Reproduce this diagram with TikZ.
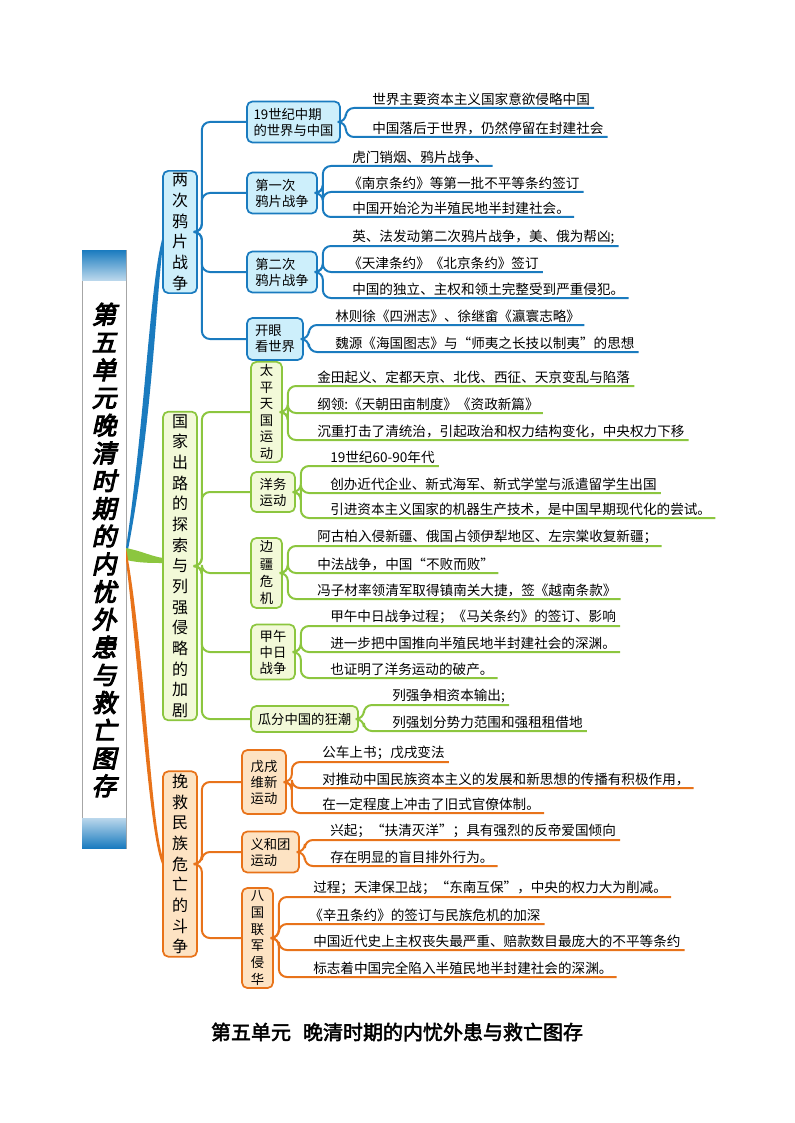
\documentclass[tikz,border=0pt]{standalone}
\usepackage{fontspec}
\setmainfont{Noto Sans CJK SC}
\newfontfamily\titlefont[FakeSlant=0.22,FakeBold=4]{Noto Sans CJK SC}
\newfontfamily\capfont[FakeBold=2.5]{Noto Sans CJK SC}
\definecolor{bl}{HTML}{1A7BBF}\definecolor{bf}{HTML}{CDEFFB}
\definecolor{gl}{HTML}{8CC63F}\definecolor{gf}{HTML}{F2F9D8}
\definecolor{ol}{HTML}{E8731A}\definecolor{of}{HTML}{FDE3C3}
\tikzset{
 box/.style={rounded corners=4pt,line width=1.3pt,inner sep=2pt,align=center,font=\fontsize{10}{12}\selectfont},
 bbox/.style={box,draw=bl,fill=bf},gbox/.style={box,draw=gl,fill=gf},obox/.style={box,draw=ol,fill=of},
 mainv/.style={font=\fontsize{12}{15.5}\selectfont},
 leaf/.style={anchor=south west,inner xsep=3pt,inner ysep=1.5pt,font=\fontsize{10.2}{11}\selectfont},
 bline/.style={draw=bl,line width=1.5pt,rounded corners=6pt},
 gline/.style={draw=gl,line width=1.5pt,rounded corners=6pt},
 oline/.style={draw=ol,line width=1.5pt,rounded corners=6pt},
}
\begin{document}
\begin{tikzpicture}[x=0.75pt,y=-0.75pt]
\useasboundingbox (0,0) rectangle (794,1123);
% title box
\draw[draw=gray!70,fill=white,line width=0.6pt] (82,250) rectangle (126,848);
\shade[top color=bl,bottom color=bl!30] (82,250) rectangle (126,280);
\shade[top color=bl!30,bottom color=bl] (82,818) rectangle (126,848);
\node[font=\titlefont\fontsize{18.5}{20.8}\selectfont,align=center,inner sep=0] (title) at (104,550) {第\\五\\单\\元\\晚\\清\\时\\期\\的\\内\\忧\\外\\患\\与\\救\\亡\\图\\存};
% main nodes
\node[bbox,mainv,minimum width={34*0.75pt},minimum height={120*0.75pt}] (m1) at (180,232) {两\\次\\鸦\\片\\战\\争};
\node[gbox,mainv,minimum width={34*0.75pt},minimum height={282*0.75pt}] (m2) at (180,566) {国\\家\\出\\路\\的\\探\\索\\与\\列\\强\\侵\\略\\的\\加\\剧};
\node[obox,mainv,minimum width={34*0.75pt},minimum height={173*0.75pt}] (m3) at (180,864) {挽\\救\\民\\族\\危\\亡\\的\\斗\\争};
% tapered main connectors
\fill[bl] (126,548) .. controls (145,420) and (150,280) .. (163,236) -- (163,244) .. controls (156,300) and (152,430) .. (126,560) -- cycle;
\fill[gl] (126,548) .. controls (145,552) and (150,556) .. (163,558) -- (163,563) .. controls (150,563) and (140,563) .. (126,560) -- cycle;
\fill[ol] (126,548) .. controls (145,650) and (150,820) .. (163,858) -- (163,866) .. controls (150,840) and (142,700) .. (126,560) -- cycle;
% blue subs
\node[bbox,align=left,minimum width={93*0.75pt},minimum height={41*0.75pt}] (a1) at (293.5,122) {19世纪中期\\的世界与中国};
\node[bbox,align=left,minimum width={70*0.75pt},minimum height={41*0.75pt}] (a2) at (282,193) {第一次\\鸦片战争};
\node[bbox,align=left,minimum width={70*0.75pt},minimum height={41*0.75pt}] (a3) at (282,272) {第二次\\鸦片战争};
\node[bbox,align=left,minimum width={56*0.75pt},minimum height={42*0.75pt}] (a4) at (275,339) {开眼\\看世界};
\foreach \s in {a1,a2,a3,a4} \draw[bline] (m1.east) -- ++(4,0) |- (\s.west);
% green subs
\node[gbox,minimum width={31*0.75pt},minimum height={99*0.75pt},font=\fontsize{10}{12.4}\selectfont] (b1) at (266.5,412) {太\\平\\天\\国\\运\\动};
\node[gbox,minimum width={44*0.75pt},minimum height={40*0.75pt}] (b2) at (273,492) {洋务\\运动};
\node[gbox,minimum width={31*0.75pt},minimum height={70*0.75pt},font=\fontsize{10}{13}\selectfont] (b3) at (266.5,573) {边\\疆\\危\\机};
\node[gbox,minimum width={44*0.75pt},minimum height={55*0.75pt}] (b4) at (273,652) {甲午\\中日\\战争};
\node[gbox,minimum width={107*0.75pt},minimum height={26*0.75pt}] (b5) at (304.5,719) {瓜分中国的狂潮};
\foreach \s in {b1,b2,b3,b4,b5} \draw[gline] (m2.east) -- ++(4,0) |- (\s.west);
% orange subs
\node[obox,minimum width={44*0.75pt},minimum height={64*0.75pt}] (c1) at (264,782) {戊戌\\维新\\运动};
\node[obox,minimum width={57*0.75pt},minimum height={41*0.75pt},align=left] (c2) at (270.5,852) {义和团\\运动};
\node[obox,minimum width={31*0.75pt},minimum height={100*0.75pt},font=\fontsize{10}{12.5}\selectfont] (c3) at (257.5,938) {八\\国\\联\\军\\侵\\华};
\foreach \s in {c1,c2,c3} \draw[oline] (m3.east) -- ++(4,0) |- (\s.west);
\newcommand{\lk}[6]{\node[leaf] (#1) at (#3-4,#4) {#5}; \draw[#6] (#2.east) -- ++(5,0) |- (#1.south east);}
% blue leaves
\lk{l11}{a1}{372}{108}{世界主要资本主义国家意欲侵略中国}{bline}
\lk{l12}{a1}{372}{137}{中国落后于世界，仍然停留在封建社会}{bline}
\lk{l21}{a2}{352}{166}{虎门销烟、鸦片战争、}{bline}
\lk{l22}{a2}{348}{192}{《南京条约》等第一批不平等条约签订}{bline}
\lk{l23}{a2}{352}{217}{中国开始沦为半殖民地半封建社会。}{bline}
\lk{l31}{a3}{352}{246}{英、法发动第二次鸦片战争，美、俄为帮凶;}{bline}
\lk{l32}{a3}{348}{272}{《天津条约》《北京条约》签订}{bline}
\lk{l33}{a3}{352}{298}{中国的独立、主权和领土完整受到严重侵犯。}{bline}
\lk{l41}{a4}{335}{325}{林则徐《四洲志》、徐继畲《瀛寰志略》}{bline}
\lk{l42}{a4}{335}{352}{魏源《海国图志》与“师夷之长技以制夷”的思想}{bline}
% green leaves
\lk{g11}{b1}{317}{386}{金田起义、定都天京、北伐、西征、天京变乱与陷落}{gline}
\lk{g12}{b1}{317}{413}{纲领:《天朝田亩制度》《资政新篇》}{gline}
\lk{g13}{b1}{317}{440}{沉重打击了清统治，引起政治和权力结构变化，中央权力下移}{gline}
\lk{g21}{b2}{330}{466}{19世纪60-90年代}{gline}
\lk{g22}{b2}{330}{493}{创办近代企业、新式海军、新式学堂与派遣留学生出国}{gline}
\lk{g23}{b2}{330}{518}{引进资本主义国家的机器生产技术，是中国早期现代化的尝试。}{gline}
\lk{g31}{b3}{317}{546}{阿古柏入侵新疆、俄国占领伊犁地区、左宗棠收复新疆；}{gline}
\lk{g32}{b3}{317}{573}{中法战争，中国“不败而败”}{gline}
\lk{g33}{b3}{317}{599}{冯子材率领清军取得镇南关大捷，签《越南条款》}{gline}
\lk{g41}{b4}{330}{626}{甲午中日战争过程；《马关条约》的签订、影响}{gline}
\lk{g42}{b4}{330}{652}{进一步把中国推向半殖民地半封建社会的深渊。}{gline}
\lk{g43}{b4}{330}{678}{也证明了洋务运动的破产。}{gline}
\lk{g51}{b5}{392}{705}{列强争相资本输出;}{gline}
\lk{g52}{b5}{392}{731}{列强划分势力范围和强租租借地}{gline}
% orange leaves
\lk{o11}{c1}{322}{762}{公车上书；戊戌变法}{oline}
\lk{o12}{c1}{322}{788}{对推动中国民族资本主义的发展和新思想的传播有积极作用，}{oline}
\lk{o13}{c1}{322}{813}{在一定程度上冲击了旧式官僚体制。}{oline}
\lk{o21}{c2}{330}{840}{兴起；“扶清灭洋”；具有强烈的反帝爱国倾向}{oline}
\lk{o22}{c2}{330}{866}{存在明显的盲目排外行为。}{oline}
\lk{o31}{c3}{313}{897}{过程；天津保卫战；“东南互保”，中央的权力大为削减。}{oline}
\lk{o32}{c3}{309}{924}{《辛丑条约》的签订与民族危机的加深}{oline}
\lk{o33}{c3}{313}{950}{中国近代史上主权丧失最严重、赔款数目最庞大的不平等条约}{oline}
\lk{o34}{c3}{313}{977}{标志着中国完全陷入半殖民地半封建社会的深渊。}{oline}
% caption
\node[font=\capfont\fontsize{15}{18}\selectfont] (cap) at (397,1032) {第五单元\hspace{0.6em}晚清时期的内忧外患与救亡图存};
\end{tikzpicture}
\end{document}
